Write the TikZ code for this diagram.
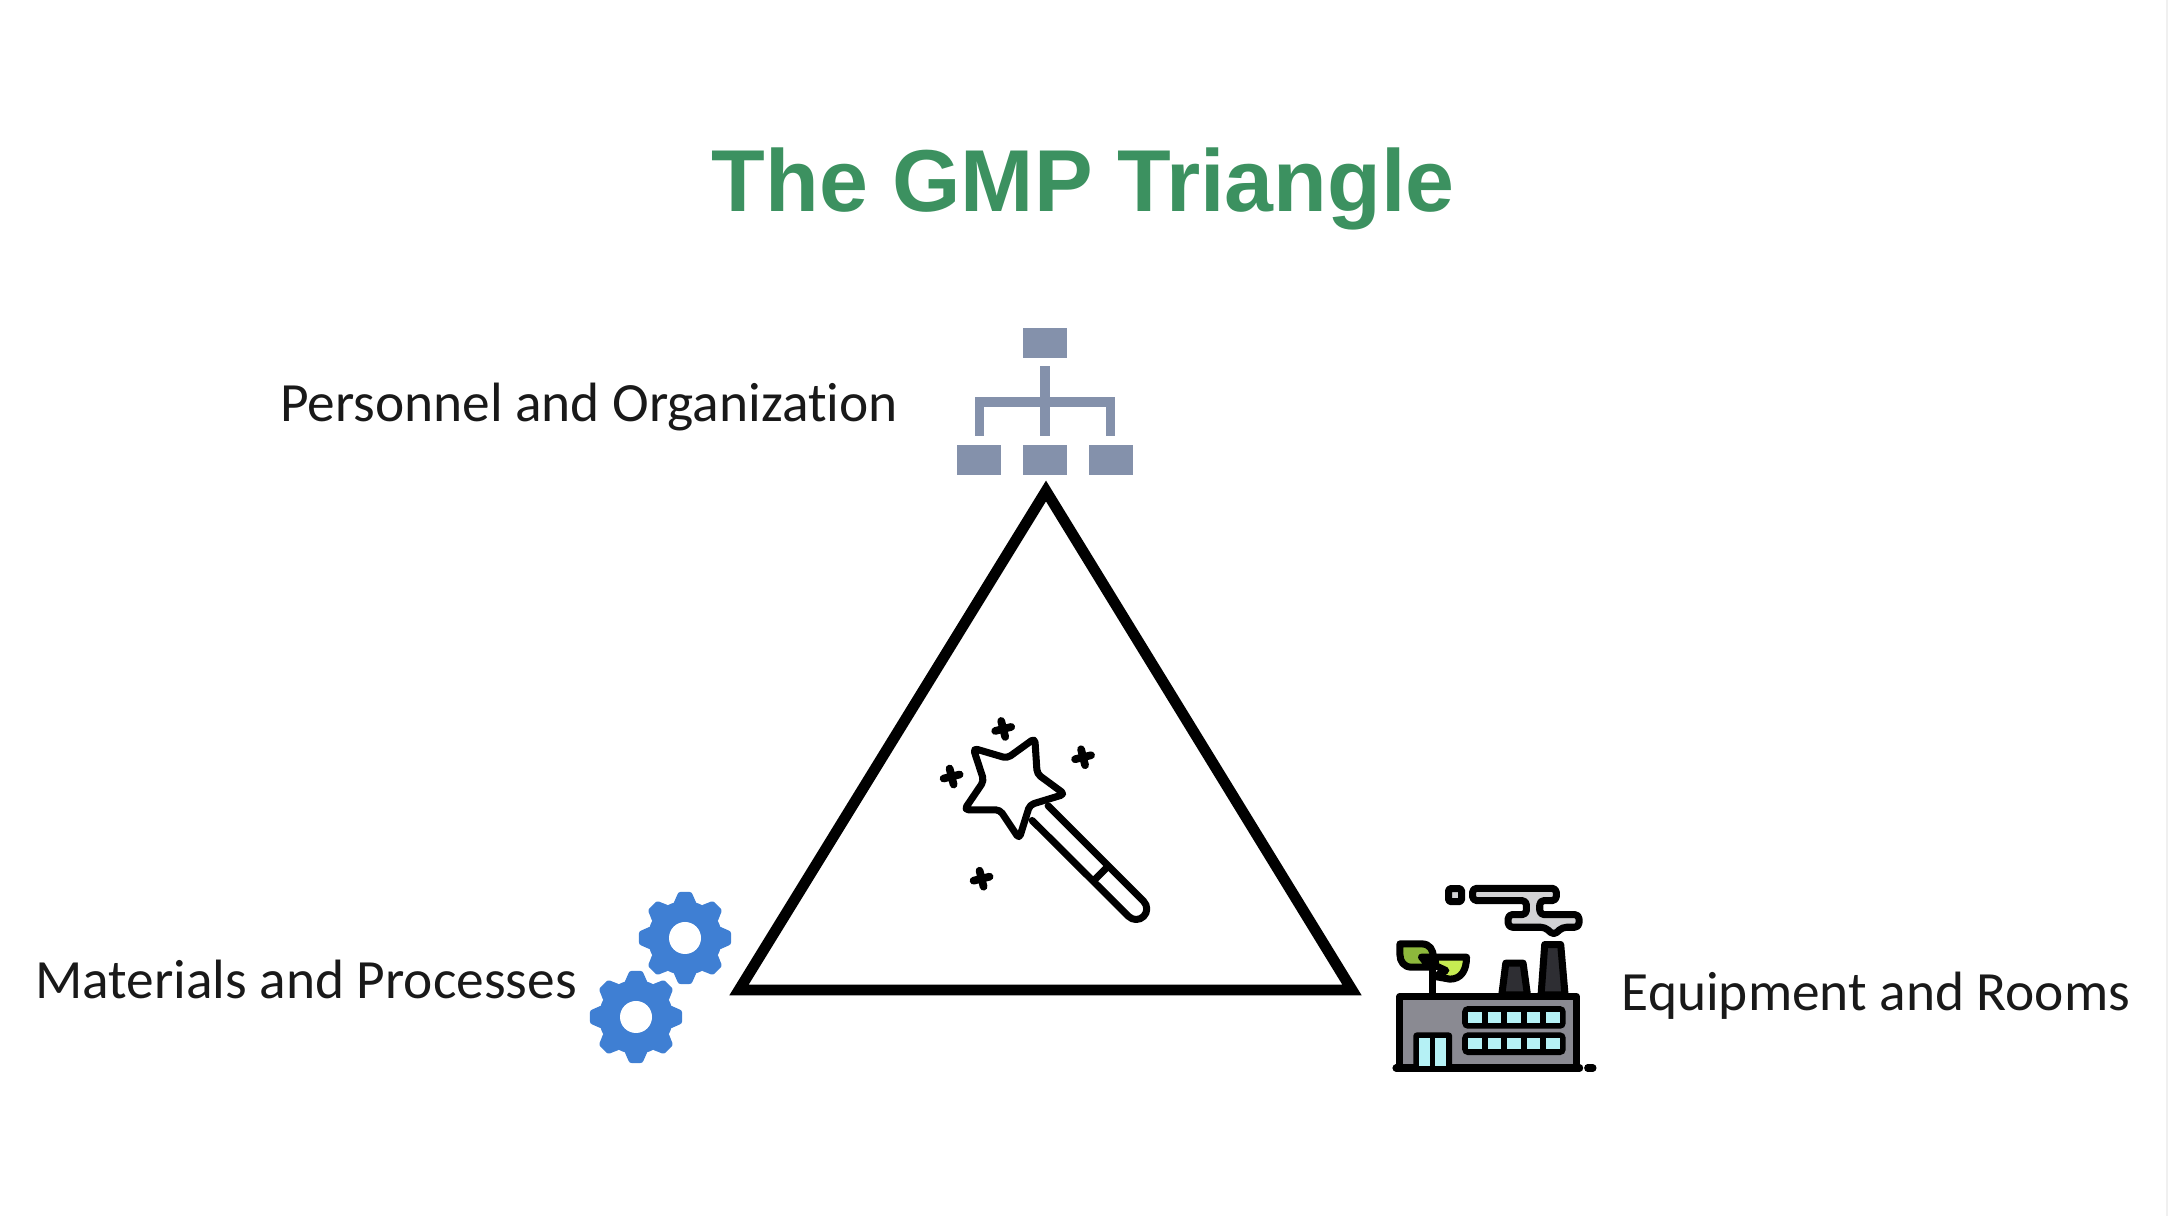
\documentclass[tikz,border=0pt]{standalone}
\usepackage{fontspec}
\setmainfont{Carlito}[Ligatures=NoCommon]
\newfontfamily\titlefont{Liberation Sans}
\usetikzlibrary{positioning}
\definecolor{gmpgreen}{HTML}{3C9160}
\definecolor{orgblue}{HTML}{8491AB}
\definecolor{gearblue}{HTML}{3F7FD3}
\definecolor{wallgray}{HTML}{8A8A92}
\definecolor{stackgray}{HTML}{2E2E33}
\definecolor{smokegray}{HTML}{D2D2D4}
\definecolor{glasscyan}{HTML}{B5F1F5}
\definecolor{leafdark}{HTML}{8DB83C}
\definecolor{leaflight}{HTML}{C6EC52}

\begin{document}
\begin{tikzpicture}[x=0.01cm, y=-0.01cm]
\tikzset{
title/.style={font=\titlefont\bfseries\fontsize{25}{29}\selectfont, text=gmpgreen}, % heading
corner label/.style={font=\fontsize{15.75}{19}\selectfont, text=black!90, anchor=base}, % the three labels
orgbox/.style={fill=orgblue, minimum width=0.437cm, minimum height=0.30cm, inner sep=0pt}, % chart boxes
orgline/.style={draw=orgblue, line width=2.6pt, shorten <=2.4pt, shorten >=2.4pt}, % chart lines
icon line/.style={line width=2pt, line join=round, line cap=round}, % black icon outlines
}
	\useasboundingbox (0,0) rectangle (2168,1216);
	\fill[black!6] (2166,0) rectangle (2168,1216);

	\node[title] (heading) at (1083,189) {The GMP Triangle};

	\node[corner label] (personnel) at (589,422) {Personnel and Organization};
	\node[corner label] (materials) at (306,999) {Materials and Processes};
	\node[corner label] (equipment) at (1876,1011) {Equipment and Rooms};

	% triangle
	\coordinate (apex) at (1046,491);
	\coordinate (baseleft) at (739,990);
	\coordinate (baseright) at (1352,990);
	\draw[line width=3.1pt, miter limit=10] (apex) -- (baseright) -- (baseleft) -- cycle;

	% chart
	\node[orgbox] (orgmid) at (1045,460) {};
	\node[orgbox, left of=orgmid, node distance=0.657cm] (orgleft) {};
	\node[orgbox, right of=orgmid, node distance=0.657cm] (orgright) {};
	\node[orgbox] (orgtop) at (1045,343) {};
	\draw[orgline] (orgtop) ++(0,15) -- (orgmid.north);
	\draw[orgline] (orgleft.north) |- (1045,402) -| (orgright.north);

	% gears
	\foreach \gearx/\geary in {685/938, 636/1017} {
		\begin{scope}[shift={(\gearx,\geary)}]
			\fill[gearblue] (0,0) circle (37);
			\foreach \a in {0,45,...,315}
				\fill[gearblue, rounded corners=0.6pt] ({\a-19}:36) -- ({\a-8}:46.5) -- ({\a+8}:46.5) -- ({\a+19}:36) -- cycle;
			\fill[white] (0,0) circle (16);
		\end{scope}
	}

	% wand
	\begin{scope}[shift={(920,700)}, x=0.00333cm, y=-0.00333cm]
		\draw[icon line, rounded corners=1.2pt] (345,115) -- (352,222) -- (435,283) -- (330,315) -- (298,417) -- (240,330) -- (133,330) -- (192,243) -- (160,145) -- (262,175) -- cycle;
		\draw[icon line] (385,318) -- (672,605) arc (-45:135:32) -- (337,362);
		\draw[icon line] (525,540) -- (560,505);
		\foreach \sx/\sy in {250/87, 490/172, 95/230, 185/537}
			\draw[icon line, line width=2.2pt] (\sx-24,\sy+6) -- (\sx+24,\sy-6) (\sx-6,\sy-24) -- (\sx+6,\sy+24);
	\end{scope}

	% factory
	\begin{scope}[shift={(1380,870)}, x=0.00333cm, y=-0.00333cm]
		\draw[icon line, fill=stackgray] (366,375) -- (378,280) -- (430,280) -- (443,375) -- cycle;
		\draw[icon line, fill=stackgray] (484,375) -- (495,224) -- (543,224) -- (556,375) -- cycle;
		\draw[icon line] (158,265) -- (158,375);
		\draw[icon line, fill=leafdark] (60,222) -- (125,222) .. controls (150,222) and (160,240) .. (160,262) -- (125,262) -- (150,292) -- (95,292) .. controls (72,292) and (60,275) .. (60,255) -- cycle;
		\draw[icon line, fill=leaflight] (165,262) -- (260,262) .. controls (260,300) and (245,328) .. (210,328) -- (165,320) -- (198,302) -- (168,288) -- cycle;
		\draw[icon line, fill=wallgray] (60,380) rectangle (590,595);
		\draw[icon line] (48,595) -- (600,595);
		\draw[icon line] (624,595) -- (640,595);
		\foreach \rowy in {443, 522} {
			\fill[black, rounded corners=1.5pt] (247,\rowy-34) rectangle (558,\rowy+34);
			\foreach \cellx in {265,324,382,441,500}
				\fill[glasscyan] (\cellx,\rowy-16) rectangle +(41,32);
		}
		\fill[black, rounded corners=1pt] (100,488) rectangle (217,595);
		\fill[glasscyan] (118,506) rectangle (150,588);
		\fill[glasscyan] (166,506) rectangle (198,588);
		\draw[icon line, fill=smokegray, rounded corners=1.2pt] (278,55) -- (530,55) -- (530,92) -- (480,92) -- (480,134) -- (598,134) -- (598,172) -- (548,172) -- (522,196) -- (496,172) -- (385,172) -- (385,134) -- (440,134) -- (440,92) -- (278,92) -- cycle;
		\draw[icon line, fill=smokegray, rounded corners=0.5pt] (206,56) rectangle (245,95);
	\end{scope}
\end{tikzpicture}
\end{document}
